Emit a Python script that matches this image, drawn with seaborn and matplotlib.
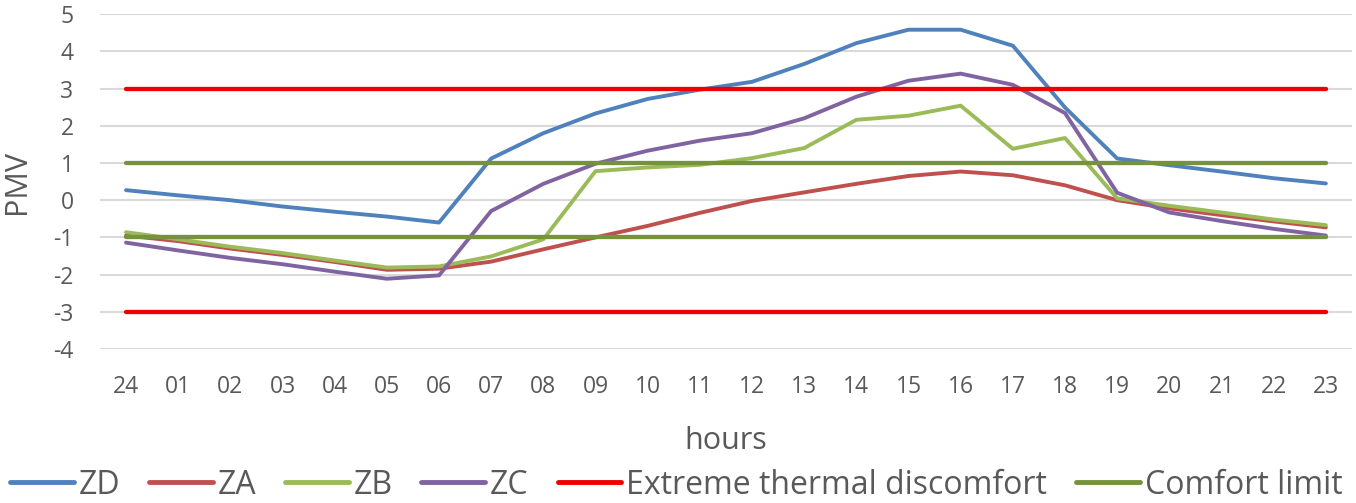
import matplotlib
matplotlib.use("Agg")
import matplotlib.pyplot as plt
import seaborn as sns
import pandas as pd
import numpy as np
from matplotlib.lines import Line2D

hours = ["24", "01", "02", "03", "04", "05", "06", "07", "08", "09", "10", "11",
         "12", "13", "14", "15", "16", "17", "18", "19", "20", "21", "22", "23"]
ZD = [0.27, 0.13, 0.0, -0.17, -0.31, -0.44, -0.60, 1.12, 1.80, 2.33, 2.72, 2.97,
      3.18, 3.66, 4.22, 4.58, 4.58, 4.15, 2.49, 1.12, 0.94, 0.77, 0.59, 0.45]
ZA = [-0.95, -1.10, -1.30, -1.47, -1.66, -1.87, -1.84, -1.65, -1.32, -1.00, -0.69, -0.34,
      -0.02, 0.21, 0.44, 0.65, 0.77, 0.67, 0.40, 0.00, -0.22, -0.40, -0.57, -0.73]
ZB = [-0.86, -1.05, -1.25, -1.42, -1.62, -1.81, -1.78, -1.51, -1.05, 0.78, 0.88, 0.95,
      1.13, 1.40, 2.16, 2.27, 2.54, 1.38, 1.67, 0.05, -0.15, -0.33, -0.52, -0.67]
ZC = [-1.14, -1.35, -1.55, -1.72, -1.92, -2.11, -2.02, -0.29, 0.44, 0.98, 1.33, 1.60,
      1.80, 2.20, 2.78, 3.21, 3.40, 3.10, 2.34, 0.20, -0.33, -0.56, -0.77, -0.95]
extreme_levels = [3, -3]
comfort_levels = [1, -1]

colors = {"ZD": "#4F81BD", "ZA": "#C0504D", "ZB": "#9BBB59", "ZC": "#8064A2",
          "Extreme thermal discomfort": "#EE0000", "Comfort limit": "#76923C"}

sns.set_theme(style="white")
plt.rcParams['font.family'] = ['Open Sans', 'DejaVu Sans']
plt.rcParams['axes.unicode_minus'] = False

df = pd.DataFrame({"hours": hours * 4,
                   "PMV": ZD + ZA + ZB + ZC,
                   "series": ["ZD"] * 24 + ["ZA"] * 24 + ["ZB"] * 24 + ["ZC"] * 24})

fig = plt.figure(figsize=(13.56, 5.03), dpi=100)
ax = fig.add_axes([0.0737, 0.306, 0.9233, 0.666])

lw = 2.8
sns.lineplot(data=df, x="hours", y="PMV", hue="series", palette=colors,
             hue_order=["ZD", "ZA", "ZB", "ZC"], linewidth=lw, sort=False,
             ax=ax, legend=False)

for name, levels in [("Extreme thermal discomfort", extreme_levels),
                     ("Comfort limit", comfort_levels)]:
    for lev in levels:
        ldf = pd.DataFrame({"hours": hours, "PMV": [lev] * len(hours)})
        sns.lineplot(data=ldf, x="hours", y="PMV", color=colors[name],
                     linewidth=lw + 0.3, sort=False, ax=ax, legend=False)

ax.set_xlim(-0.5, len(hours) - 0.5)
ax.set_ylim(-4, 5)
ax.set_yticks(range(-4, 6))
ax.yaxis.grid(True, color="#D9D9D9", linewidth=1.5)
ax.set_axisbelow(True)
for s in ax.spines.values():
    s.set_visible(False)
ax.tick_params(axis="both", colors="#595959", labelsize=16.5, length=0)
ax.tick_params(axis="x", pad=19)
ax.tick_params(axis="y", pad=19)
ax.set_xlabel("hours", fontsize=22, color="#595959", labelpad=19)
ax.set_ylabel("PMV", fontsize=22, color="#595959")
ax.yaxis.set_label_coords(-0.0545, 0.5)

handles = [Line2D([0], [0], color=colors[k], linewidth=3.5) for k in colors]
fig.legend(handles, list(colors.keys()), loc="center", ncol=6,
           bbox_to_anchor=(0.4985, 1 - 485 / 503), frameon=False, fontsize=23,
           handlelength=2.0, handletextpad=0.15, columnspacing=0.9,
           labelcolor="#595959", borderpad=0)

fig.savefig("out.png", dpi=100)
